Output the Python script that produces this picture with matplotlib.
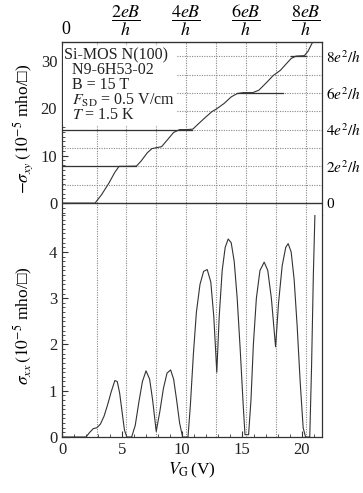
import matplotlib
matplotlib.use("Agg")
import matplotlib.pyplot as plt
from matplotlib.ticker import MultipleLocator

# -sigma_xy (1e-5 mho/sq) vs gate voltage
vg_xy = [0, 2.75, 3.3, 3.9, 4.4, 4.75, 5.2, 6.2, 6.6, 7.1, 7.5, 7.9, 8.3, 8.8,
         9.3, 9.8, 10.4, 10.9, 11.4, 12.0, 12.5, 12.9, 13.5, 14.1, 14.6, 15.1,
         15.9, 16.4, 17.0, 17.6, 18.2, 18.7, 19.1, 19.5, 20.2, 20.5, 20.8, 21.1]
sxy = [0, 0, 1.8, 4.2, 6.5, 7.75, 7.75, 7.8, 8.9, 10.6, 11.5, 11.7, 11.9, 13.4,
       14.9, 15.5, 15.5, 15.6, 16.8, 18.2, 19.3, 19.9, 21.0, 22.4, 23.1, 23.3,
       23.3, 23.8, 25.3, 26.9, 28.0, 29.4, 30.5, 31.0, 31.1, 32.0, 33.5, 35.0]

# sigma_xx (1e-5 mho/sq)
vg_xx = [0, 2.0, 2.3, 2.6, 2.9, 3.2, 3.5, 3.8, 4.1, 4.4, 4.6, 4.8, 5.0, 5.2, 5.4,
         5.8, 6.1, 6.4, 6.7, 7.0, 7.3, 7.55, 7.85, 8.15, 8.45, 8.75, 9.05, 9.3,
         9.55, 9.8, 10.05,
         10.5, 10.7, 10.95, 11.2, 11.5, 11.8, 12.1, 12.4, 12.65, 12.9, 13.1,
         13.35, 13.6, 13.85, 14.1, 14.35, 14.6, 14.85, 15.1, 15.25,
         15.55, 15.75, 15.95, 16.2, 16.5, 16.85, 17.15, 17.45, 17.8, 18.05,
         18.35, 18.65, 18.85, 19.1, 19.35, 19.6, 19.85, 20.1, 20.3, 20.65,
         20.8, 20.95, 21.1]
sxx = [0, 0, 0.1, 0.18, 0.2, 0.28, 0.45, 0.7, 0.98, 1.22, 1.2, 0.95, 0.55, 0.15, 0,
       0, 0.25, 0.75, 1.2, 1.43, 1.25, 0.8, 0.12, 0.55, 1.05, 1.38, 1.45, 1.25,
       0.8, 0.3, 0,
       0, 0.7, 1.8, 2.7, 3.3, 3.58, 3.62, 3.35, 2.6, 1.4, 2.6,
       3.6, 4.1, 4.28, 4.2, 3.8, 3.0, 1.9, 0.7, 0.05,
       0.05, 0.8, 2.0, 3.0, 3.6, 3.78, 3.6, 3.0, 1.95, 2.9,
       3.7, 4.1, 4.18, 4.0, 3.4, 2.4, 1.2, 0.2, 0, 0,
       1.5, 3.5, 5.0]

# grid / reference positions
level_v = [2.9, 5.3, 7.8, 10.3, 12.8, 15.3, 17.8, 20.3]
e2h_levels = [3.87, 7.75, 11.62, 15.5, 19.37, 23.24, 27.12, 31.0]
plateau_lvl = [7.75, 15.5, 23.24, 31.0]
plateau_from = [0, 0, 14.6, 19.1]
plateau_to = [6.2, 10.8, 18.4, 20.3]

top_ticks = [0.3, 5.3, 10.3, 15.3, 20.3]
top_labels = ["0", r"$\dfrac{2eB}{h}$", r"$\dfrac{4eB}{h}$",
              r"$\dfrac{6eB}{h}$", r"$\dfrac{8eB}{h}$"]
right_ticks = [0, 7.75, 15.5, 23.24, 31.0]
right_labels = ["0", r"$2e^2/h$", r"$4e^2/h$", r"$6e^2/h$", r"$8e^2/h$"]

plt.rcParams["font.family"] = ["Liberation Serif", "DejaVu Sans"]
plt.rcParams["mathtext.fontset"] = "stix"
plt.rcParams["font.size"] = 12

ink = "#333333"
grid_c = "#888888"

fig = plt.figure(figsize=(3.63, 4.93), dpi=100)
left, right = 0.171, 0.887
ax1 = fig.add_axes([left, 0.564, right - left, 0.915 - 0.564])
ax2 = fig.add_axes([left, 0.1136, right - left, 0.564 - 0.1136], sharex=ax1)

for ax in (ax1, ax2):
    for v in level_v:
        ax.axvline(v, color=grid_c, lw=0.8, ls=(0, (1, 1.2)), zorder=1)
    for s in ax.spines.values():
        s.set_color(ink)
        s.set_linewidth(0.9)
    ax.tick_params(direction="in", colors=ink, labelcolor="#222222", length=4)
    ax.tick_params(which="minor", direction="in", length=2.5, color=ink)

for y in e2h_levels:
    ax1.axhline(y, color=grid_c, lw=0.8, ls=(0, (1, 1.2)), zorder=1)
ax1.axhline(0, color=ink, lw=1.0, zorder=2)
for y, a, b in zip(plateau_lvl, plateau_from, plateau_to):
    ax1.plot([a, b], [y, y], color=ink, lw=0.9, zorder=2)

ax1.plot(vg_xy, sxy, color=ink, lw=0.8, zorder=3)
ax2.plot(vg_xx, sxx, color=ink, lw=0.8, zorder=3)

ax1.set_xlim(0, 21.67)
ax1.set_ylim(-2.5, 34)
ax2.set_ylim(0, 4.8)

ax1.spines["bottom"].set_visible(False)
ax2.spines["top"].set_visible(False)
ax1.tick_params(axis="x", which="both", bottom=False, labelbottom=False)

ax1.set_yticks([0, 10, 20, 30])
ax1.yaxis.set_minor_locator(MultipleLocator(1))
ax2.set_yticks([0, 1, 2, 3, 4])
ax2.yaxis.set_minor_locator(MultipleLocator(0.1))
ax2.set_xticks([0, 5, 10, 15, 20])
ax2.xaxis.set_minor_locator(MultipleLocator(1))

top = ax1.secondary_xaxis("top")
top.set_xticks(top_ticks, labels=top_labels)
top.tick_params(length=0, pad=3, labelsize=13)

rax = ax1.twinx()
rax.set_ylim(ax1.get_ylim())
rax.set_yticks(right_ticks, labels=right_labels)
rax.tick_params(length=0, pad=3, labelsize=11)
for s in rax.spines.values():
    s.set_visible(False)

ax1.set_ylabel(r"$-\sigma_{xy}\,(10^{-5}$ mho/□)", fontsize=12.5, labelpad=4)
ax2.set_ylabel(r"$\sigma_{xx}\,(10^{-5}$ mho/□)", fontsize=12.5, labelpad=10)
ax2.set_xlabel(r"$V_{\rm G}\,$(V)", fontsize=12.5, labelpad=2)

ax1.text(0.2, 32.9,
         "Si-MOS N(100)\n  N9-6H53-02\n  B = 15 T\n"
         "  $F_{\\rm SD}$ = 0.5 V/cm\n  $T$ = 1.5 K",
         fontsize=11.5, color="#222222", va="top", ha="left", linespacing=0.9,
         bbox=dict(facecolor="white", edgecolor="none", pad=1.0), zorder=4)

fig.savefig("out.png", dpi=100)
